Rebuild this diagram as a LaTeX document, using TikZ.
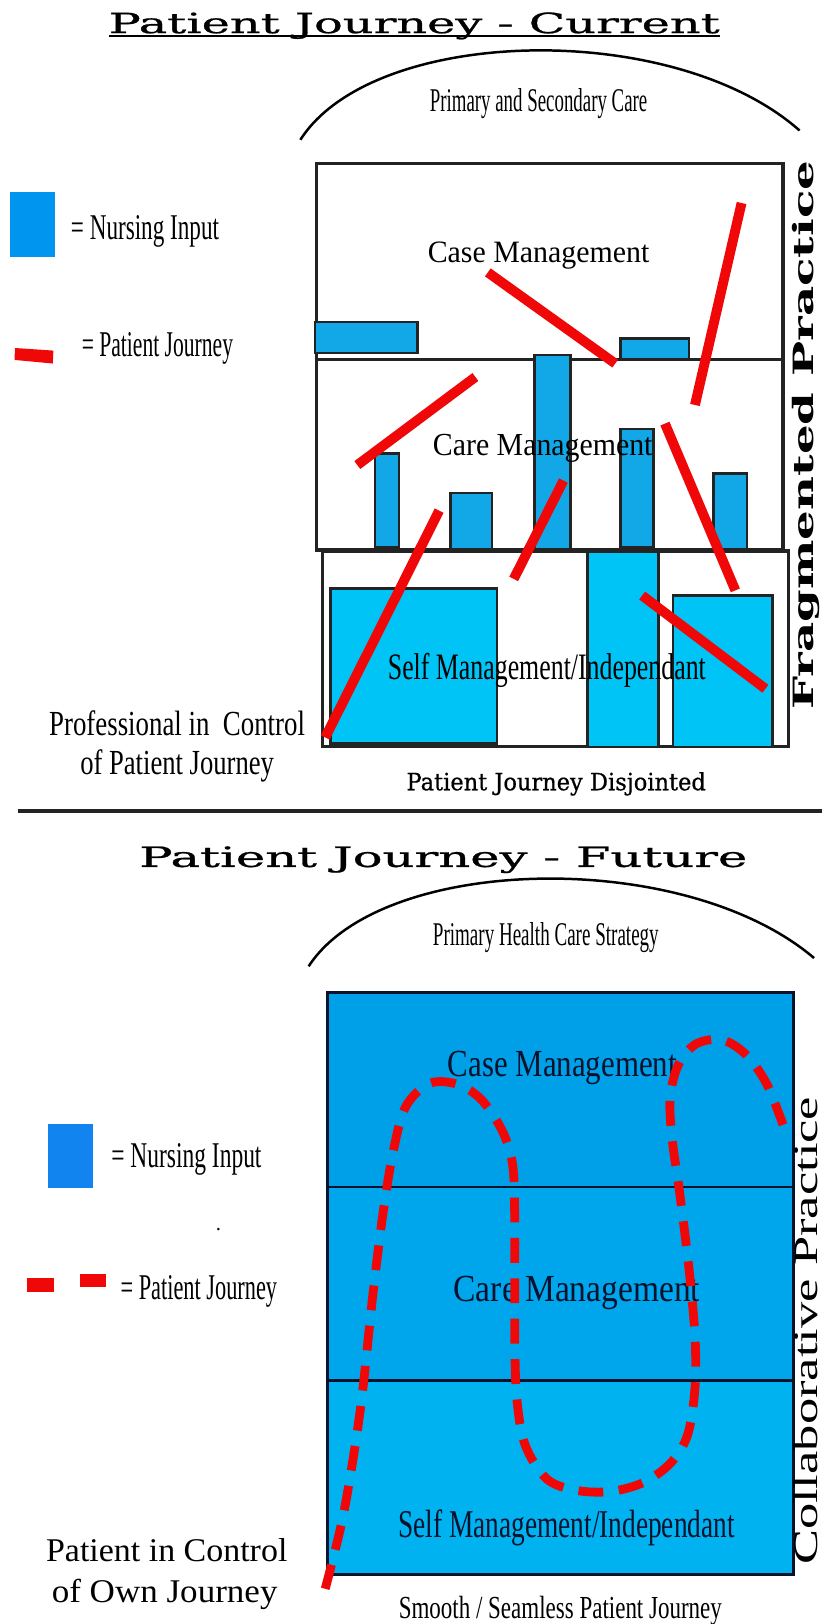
\documentclass[tikz,border=0pt]{standalone}
\usepackage{fontspec}
\usepackage{graphicx}
\setmainfont{Liberation Serif}
\newfontfamily\headfont[FakeBold=0.7]{DejaVu Serif}
\newfontfamily\sideheadfont{DejaVu Serif}
\newcommand\fsz[1]{\fontsize{#1}{#1}\selectfont}
\newcommand\wbox[2]{\resizebox{#1}{\height}{#2}}
\definecolor{legblueA}{RGB}{0,150,240}
\definecolor{legblueB}{RGB}{18,132,240}
\definecolor{barblue}{RGB}{18,168,232}
\definecolor{selfcyan}{RGB}{0,196,245}
\definecolor{bandA}{RGB}{0,160,232}
\definecolor{bandB}{RGB}{0,166,236}
\definecolor{bandC}{RGB}{0,178,240}
\definecolor{framegray}{RGB}{35,35,35}
\definecolor{jred}{RGB}{240,8,8}
\definecolor{textnavy}{RGB}{8,18,45}
\begin{document}
\begin{tikzpicture}[x=1pt,y=-1pt,
  txt/.style={inner sep=0pt,outer sep=0pt,anchor=base},
  vtxt/.style={inner sep=0pt,outer sep=0pt,rotate=90,anchor=north},
  boxline/.style={draw=framegray,line width=3pt},
  bar/.style={fill=barblue,draw=framegray,line width=2.4pt},
  selfbox/.style={fill=selfcyan,draw=framegray,line width=2.4pt},
  arcline/.style={draw=black,line width=2.4pt},
  jline/.style={draw=jred,line width=9.5pt},
  jdash/.style={draw=jred,line width=8.5pt,dash pattern=on 24pt off 15pt},
  bigframe/.style={draw=textnavy,line width=2.6pt}]
\useasboundingbox (0,0) rectangle (794,1568);
\fill[white] (0,0) rectangle (794,1568);

% ---------------- current journey ----------------
\node[txt] (title1) at (400,32) {\wbox{590pt}{\fsz{27}\headfont Patient Journey - Current}};
\draw[line width=2pt] ([yshift=-3pt]title1.base west) -- ([yshift=-3pt]title1.base east);

\draw[arcline] (290,135) .. controls (360,25) and (650,18) .. (772,126);
\node[txt] (psc) at (520,108) {\wbox{210pt}{\fsz{32}Primary and Secondary Care}};

% legend
\fill[legblueA] (10,185) rectangle (53,248);
\node[txt] (leg1a) at (140,231) {\wbox{143pt}{\fsz{35}= Nursing Input}};
\fill[jred] (14.5,336) -- (51.5,338.5) -- (51,351) -- (14,347.5) -- cycle;
\node[txt] (leg1b) at (152,344) {\wbox{146pt}{\fsz{35}= Patient Journey}};

% three levels
\draw[boxline] (306,158) rectangle (756,347);
\draw[boxline] (306,347) rectangle (756,531);
\draw[boxline,fill=white] (311,532) rectangle (761,721);

% nursing input bars
\draw[bar] (304,311) rectangle (403,341);
\draw[bar] (599,327) rectangle (665,347);
\draw[bar] (362,438) rectangle (385,528);
\draw[bar] (435,476) rectangle (475,530);
\draw[bar] (516,343) rectangle (551,530);
\draw[bar] (599,414) rectangle (631,528);
\draw[bar] (689,457) rectangle (721,530);
\draw[selfbox] (319,568) rectangle (480,718);
\draw[selfbox] (567,533) rectangle (636,721);
\draw[selfbox] (650,575) rectangle (746,721);

\node[txt] (case1) at (520,253) {\wbox{214pt}{\fsz{30}Case Management}};
\node[txt] (care1) at (524,440) {\wbox{212pt}{\fsz{31}Care Management}};
\node[txt] (self1) at (528,656) {\wbox{307pt}{\fsz{36}Self Management/Independant}};

\node[txt] (prof1) at (171,710) {\wbox{247pt}{\fsz{34}Professional in\ \ Control}};
\node[txt] (prof2) at (171,748) {\wbox{187pt}{\fsz{34}of Patient Journey}};
\node[txt] (disj) at (537,763) {\wbox{289pt}{\fsz{23}\headfont Patient Journey Disjointed}};
\node[vtxt] (frag) at (765,420) {\wbox{530pt}{\fsz{27}\sideheadfont\bfseries Fragmented Practice}};

% disjointed journey segments
\coordinate (r1a) at (471,263); \coordinate (r1b) at (594,351);
\coordinate (r2a) at (716,196); \coordinate (r2b) at (671,391);
\coordinate (r3a) at (459,364); \coordinate (r3b) at (345,449);
\coordinate (r4a) at (642,409); \coordinate (r4b) at (710,570);
\coordinate (r5a) at (544,464); \coordinate (r5b) at (496,559);
\coordinate (r6a) at (424,493); \coordinate (r6b) at (314,712);
\coordinate (r7a) at (620,575); \coordinate (r7b) at (739,665);
\foreach \s in {1,...,7} {\draw[jline] (r\s a) -- (r\s b);}

% separator
\draw[line width=3pt,framegray] (17,783) -- (794,783);

% ---------------- future journey ----------------
\node[txt] (title2) at (428,837) {\wbox{587pt}{\fsz{27}\headfont Patient Journey - Future}};
\draw[arcline] (298,933) .. controls (368,825) and (660,818) .. (786,925);
\node[txt] (phc) at (527,913) {\wbox{218pt}{\fsz{32}Primary Health Care Strategy}};

% legend
\fill[legblueB] (46,1085) rectangle (90,1147);
\node[txt] (leg2a) at (180,1127) {\wbox{145pt}{\fsz{35}= Nursing Input}};
\node[txt] (dot) at (211,1188) {\fsz{20}.};
\fill[jred] (26,1234) rectangle (52,1247);
\fill[jred] (77,1230) rectangle (102,1243);
\node[txt] (leg2b) at (192,1255) {\wbox{151pt}{\fsz{35}= Patient Journey}};

% integrated levels
\fill[bandA] (316,958) rectangle (766,1146);
\fill[bandB] (316,1146) rectangle (766,1333);
\fill[bandC] (316,1333) rectangle (766,1520);
\draw[bigframe] (316,1146) -- (766,1146);
\draw[bigframe] (316,1333) -- (766,1333);
\draw[bigframe] (316,958) rectangle (766,1520);

\node[txt,text=textnavy] (case2) at (543,1039) {\wbox{221pt}{\fsz{37}Case Management}};
\node[txt,text=textnavy] (care2) at (557,1257) {\wbox{238pt}{\fsz{37}Care Management}};
\node[txt,text=textnavy] (self2) at (547,1484) {\wbox{325pt}{\fsz{38}Self Management/Independant}};

\node[txt] (smooth) at (541,1563) {\wbox{312pt}{\fsz{31}Smooth / Seamless Patient Journey}};
\node[txt] (pat1) at (161,1508) {\wbox{233pt}{\fsz{32}Patient in Control}};
\node[txt] (pat2) at (159,1547) {\wbox{218pt}{\fsz{32}of Own Journey}};
\node[vtxt] (collab) at (766,1285) {\wbox{452pt}{\fsz{33}Collaborative Practice}};

% seamless journey
\draw[jdash] plot[smooth,tension=0.55] coordinates {
  (314,1534) (332,1460) (348,1360) (360,1250) (370,1170) (380,1110)
  (392,1068) (415,1046) (442,1047) (465,1062) (485,1092) (495,1125)
  (497,1180) (497,1290) (499,1350) (507,1395) (528,1428) (557,1439)
  (590,1440) (622,1431) (648,1412) (664,1385) (671,1340) (671,1290)
  (665,1223) (656,1150) (649,1100) (647,1060) (655,1028) (672,1008)
  (697,1004) (720,1018) (740,1046) (756,1086)};
\end{tikzpicture}
\end{document}
